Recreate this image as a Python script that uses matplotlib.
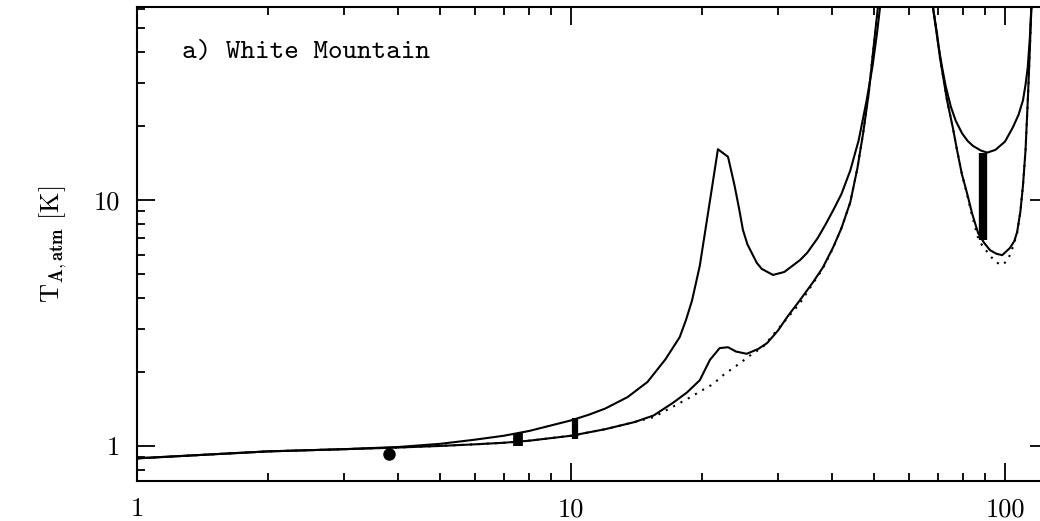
import numpy as np
import matplotlib
matplotlib.use("Agg")
import matplotlib.pyplot as plt
from matplotlib.ticker import FixedLocator, FixedFormatter, LogLocator, NullFormatter

plt.rcParams["mathtext.fontset"] = "cm"
plt.rcParams["axes.formatter.use_mathtext"] = True

# wet model (high water vapour)
f_high = [1.0, 1.5, 2.0, 3.0, 4.0, 5.0, 6.0, 7.0, 8.0, 10.0, 11.0, 12.0, 13.5, 15.0, 16.5,
          17.8, 18.4, 19.0, 19.8, 21.0, 21.8, 23.0, 23.8, 24.4, 24.9, 25.5, 26.8, 27.5,
          29.2, 31.0, 33.7, 35.0, 37.0, 38.5, 40.2, 42.0, 44.0, 46.0, 48.0, 49.5, 50.7,
          52.0, 53.0,
          67.0, 68.2, 70.0, 71.6, 73.0, 75.0, 77.0, 79.6, 82.0, 84.4, 88.0, 91.0, 95.0,
          100.0, 104.3, 107.5, 110.0, 111.5, 112.8, 114.0, 115.0, 116.0]
t_high = [0.89, 0.925, 0.95, 0.97, 0.99, 1.02, 1.06, 1.10, 1.15, 1.27, 1.34, 1.42, 1.58, 1.82, 2.25,
          2.77, 3.25, 3.9, 5.4, 10.5, 16.1, 15.0, 11.5, 9.2, 7.55, 6.6, 5.55, 5.25,
          4.96, 5.1, 5.7, 6.1, 7.0, 7.9, 9.1, 10.6, 13.2, 17.5, 25.5, 35.0, 47.7,
          70.0, 120.0,
          120.0, 61.0, 44.0, 34.7, 29.0, 24.0, 21.0, 18.7, 17.4, 16.6, 15.9, 15.6, 16.0,
          17.3, 19.8, 22.3, 25.5, 29.5, 34.7, 45.0, 61.0, 100.0]

# low water vapour
f_low = [1.0, 2.0, 3.0, 4.0, 5.0, 6.0, 7.0, 8.0, 10.0, 12.0, 14.0, 15.5, 17.2, 18.5,
         19.8, 20.9, 22.0, 23.0, 24.0, 25.4, 27.0, 28.3, 30.0, 31.5, 33.7, 36.0, 38.0,
         40.2, 42.0, 44.0, 45.7, 47.1, 48.5, 49.7, 51.0, 52.5,
         67.0, 68.2, 69.7, 70.8, 73.5, 75.9, 77.5, 79.5, 81.7, 84.0, 86.7, 89.5, 92.3,
         95.5, 98.5, 102.6, 105.0, 106.6, 108.5, 110.0, 111.5, 113.0, 114.0, 115.0, 116.0]
t_low = [0.89, 0.95, 0.97, 0.985, 1.0, 1.015, 1.03, 1.05, 1.10, 1.17, 1.25, 1.33, 1.50, 1.65,
         1.85, 2.24, 2.50, 2.52, 2.42, 2.37, 2.48, 2.62, 2.95, 3.35, 3.92, 4.6, 5.3,
         6.44, 7.7, 9.8, 13.5, 18.7, 27.0, 40.7, 62.0, 110.0,
         110.0, 61.0, 47.7, 38.0, 25.5, 19.5, 16.0, 12.8, 10.7, 8.8, 7.34, 6.7, 6.26,
         6.05, 5.97, 6.38, 6.8, 7.4, 9.0, 11.5, 16.0, 27.0, 40.0, 61.0, 100.0]

# dry atmosphere
f_dry = [1.0, 2.0, 3.0, 4.0, 5.0, 6.0, 7.0, 8.0, 10.0, 12.0, 14.0, 15.5, 17.0, 18.5,
         20.0, 21.2, 22.5, 24.5, 26.0, 27.7, 30.8, 33.7, 36.0, 38.0, 40.2, 42.0, 44.0,
         45.7, 47.1, 48.5, 49.7, 51.0, 52.5,
         67.0, 68.2, 69.7, 70.8, 73.5, 75.9, 77.5, 79.5, 81.7, 84.0, 86.7, 88.5, 92.0,
         95.0, 98.5, 101.5, 104.3, 106.6, 108.5, 110.0, 111.5, 113.0, 114.0, 115.0, 116.0]
t_dry = [0.89, 0.95, 0.97, 0.985, 1.0, 1.015, 1.03, 1.05, 1.10, 1.17, 1.25, 1.31, 1.43, 1.55,
         1.68, 1.78, 1.95, 2.17, 2.35, 2.53, 3.16, 3.81, 4.55, 5.25, 6.4, 7.7, 9.8,
         13.5, 18.7, 27.0, 40.7, 62.0, 110.0,
         110.0, 61.0, 47.7, 38.0, 25.5, 19.5, 16.0, 12.8, 10.6, 8.6, 7.0, 6.56, 6.0,
         5.6, 5.44, 5.7, 6.45, 7.3, 9.0, 11.5, 16.0, 27.0, 40.0, 61.0, 100.0]

# measurements: frequency, lower, upper, bar width
meas_f = [7.55, 10.2, 89.0]
meas_lo = [1.0, 1.07, 6.9]
meas_hi = [1.13, 1.30, 15.6]
meas_w = [7, 4.5, 6]

pt_f = 3.8
pt_t = 0.925
pt_lo = 0.875
pt_hi = 0.975

fig = plt.figure(figsize=(10.4, 5.21), dpi=100)
ax = fig.add_axes([137 / 1040, 40 / 521, (1048 - 137) / 1040, 474 / 521])

ax.plot(f_high, t_high, color="black", lw=1.5)
ax.plot(f_low, t_low, color="black", lw=1.5)
ax.plot(f_dry, t_dry, color="black", lw=1.5, ls=(0, (1, 3)))

for f, lo, hi, w in zip(meas_f, meas_lo, meas_hi, meas_w):
    ax.plot([f, f], [lo, hi], color="black", lw=w, solid_capstyle="butt")
ax.errorbar([pt_f], [pt_t], yerr=[[pt_t - pt_lo], [pt_hi - pt_t]], fmt="o",
            color="black", ms=8, elinewidth=3, capsize=0)

ax.set_xscale("log")
ax.set_yscale("log")
ax.set_xlim(1, 125.6)
ax.set_ylim(0.72, 61)

for a in (ax.xaxis, ax.yaxis):
    a.set_major_locator(FixedLocator([1, 10, 100]))
    a.set_major_formatter(FixedFormatter(["1", "10", "100"]))
    a.set_minor_locator(LogLocator(base=10, subs=np.arange(2, 10)))
    a.set_minor_formatter(NullFormatter())

ax.tick_params(which="both", direction="in", top=True, right=True, width=1.3)
ax.tick_params(which="major", length=13, pad=12)
ax.tick_params(which="minor", length=6)
for lab in ax.get_xticklabels() + ax.get_yticklabels():
    lab.set_fontfamily("cmr10")
    lab.set_fontsize(19)
for s in ax.spines.values():
    s.set_linewidth(1.5)

ax.set_ylabel(r"$\mathrm{T}_{\mathbf{A,atm}}\ \mathrm{[K]}$", fontsize=19, labelpad=18)
ax.text(182, 521 - 53, "a) White Mountain", transform=None, fontfamily="cmtt10",
        fontsize=20, va="center", ha="left")

fig.savefig("out.png", dpi=100)
